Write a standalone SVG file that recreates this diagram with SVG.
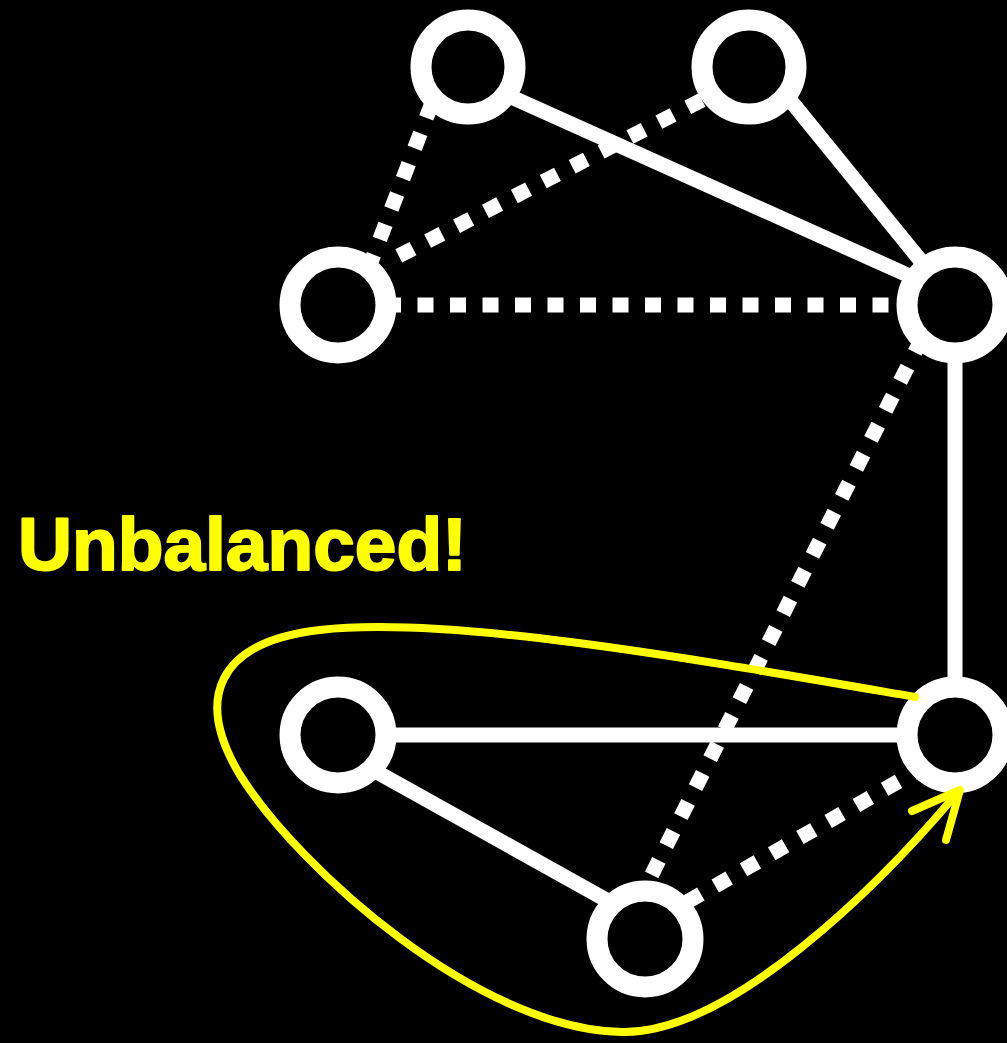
<svg xmlns="http://www.w3.org/2000/svg" width="1007" height="1043" viewBox="0 0 1007 1043">
<style>
.solid{stroke:#fff;stroke-width:15;fill:none}
.dot{stroke:#fff;stroke-width:15;fill:none;stroke-dasharray:16 16.5}
.node{fill:#000;stroke:#fff;stroke-width:21}
.hl{stroke:#ff0;stroke-width:8;fill:none;stroke-linecap:round;stroke-linejoin:round}
</style>
<rect width="1007" height="1043" fill="#000"/>
<g id="connectors">
<line class="solid" x1="507" y1="95" x2="912" y2="277"/>
<line class="solid" x1="786" y1="95" x2="925" y2="266"/>
<line class="dot" x1="432" y1="103" x2="371" y2="262"/>
<line class="dot" x1="702" y1="100" x2="385" y2="263"/>
<line class="dot" x1="385" y1="305" x2="908" y2="305"/>
<line class="solid" x1="955" y1="352" x2="955" y2="688"/>
<line class="dot" x1="922" y1="338" x2="648" y2="882"/>
<line class="solid" x1="385" y1="735" x2="908" y2="735"/>
<line class="solid" x1="375" y1="771" x2="610" y2="902"/>
<line class="dot" x1="687" y1="902" x2="915" y2="772"/>
</g>
<g id="nodeA"><circle class="node" cx="468" cy="67" r="47"/></g>
<g id="nodeB"><circle class="node" cx="749" cy="67" r="47"/></g>
<g id="nodeC"><circle class="node" cx="338" cy="305" r="48"/></g>
<g id="nodeD"><circle class="node" cx="955" cy="305" r="48"/></g>
<g id="nodeE"><circle class="node" cx="338" cy="735" r="48"/></g>
<g id="nodeF"><circle class="node" cx="955" cy="735" r="48"/></g>
<g id="nodeG"><circle class="node" cx="645" cy="939" r="48"/></g>
<g id="highlight">
<path class="hl" d="M 915 697 C 700 660, 450 615, 320 630 C 215 642, 195 700, 240 775 C 300 870, 480 1030, 622 1032 C 730 1034, 880 885, 958 792"/>
<path class="hl" d="M 912 811 L 960 790 L 946 840"/>
</g>
<text x="18" y="570" font-family="Liberation Sans, Arial, sans-serif" font-weight="bold" font-size="75" fill="#ff0" stroke="#ff0" stroke-width="2" stroke-linejoin="round" textLength="449" lengthAdjust="spacingAndGlyphs">Unbalanced!</text>
</svg>
